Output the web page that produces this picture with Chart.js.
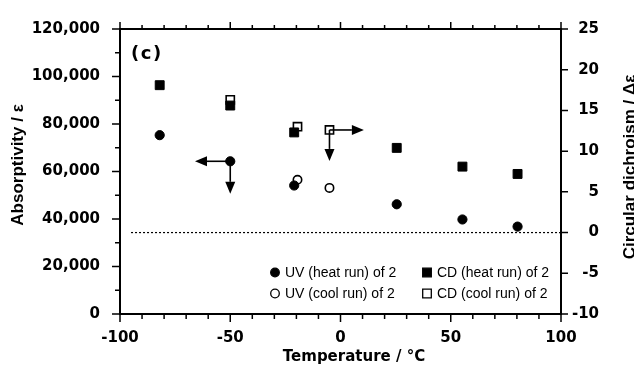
<!DOCTYPE html>
<html>
<head>
<meta charset="utf-8">
<script src="https://cdn.jsdelivr.net/npm/chart.js@4"></script>
<style>
  body { margin: 0; background: #fff; }
  #wrap { width: 634px; height: 366px; }
</style>
</head>
<body>
<div id="wrap"><canvas id="myChart" width="634" height="366"></canvas></div>
<script>
// temperatures (°C) and values
var uvHeatT = [-82, -50, -21, 25.5, 55.3, 80.3];
var uvHeat = [75300, 64300, 54100, 46200, 39800, 36800];
var uvCoolT = [-19.5, -5];
var uvCool = [56500, 53100];
var cdHeatT = [-82, -50, -21, 25.5, 55.3, 80.3];
var cdHeat = [18.1, 15.6, 12.3, 10.4, 8.1, 7.2];
var cdCoolT = [-50, -19.5, -5];
var cdCool = [16.3, 13.0, 12.6];
var zeroLineT = [-95, 100];
var zeroLine = [0, 0];

// arrows: [x0, y0, x1, y1] on the given y axis
var uvArrows = [[-50, 64300, -66, 64300], [-50, 64300, -50, 50600]];
var cdArrows = [[-5, 12.6, 10.6, 12.6], [-5, 12.6, -5, 8.8]];

var legendLabels = ['UV (heat run) of 2', 'CD (heat run) of 2', 'UV (cool run) of 2', 'CD (cool run) of 2'];

function pts(xs, ys) {
    return xs.map(function (x, i) { return { x: x, y: ys[i] }; });
}

var tickFont = { family: 'DejaVu Sans', weight: 'bold', size: 15 };

var decorPlugin = {
    id: 'decor',
    beforeDatasetsDraw: function (chart) {
        var ctx = chart.ctx;
        var a = chart.chartArea;
        var sx = chart.scales.x, sy = chart.scales.y, sy2 = chart.scales.y2;
        ctx.save();
        ctx.strokeStyle = '#000';
        ctx.lineWidth = 2;
        ctx.strokeRect(a.left, a.top, a.right - a.left, a.bottom - a.top);
        ctx.lineWidth = 1.5;
        ctx.beginPath();
        for (var v = 0; v <= 120000; v += 10000) {
            var py = sy.getPixelForValue(v);
            var len = v % 20000 === 0 ? 8 : 5;
            ctx.moveTo(a.left - len, py); ctx.lineTo(a.left, py);
        }
        for (var c = -10; c <= 25; c += 5) {
            var py2 = sy2.getPixelForValue(c);
            ctx.moveTo(a.right, py2); ctx.lineTo(a.right + 7, py2);
        }
        for (var t = -100; t <= 100; t += 10) {
            var px = sx.getPixelForValue(t);
            var major = t % 50 === 0;
            ctx.moveTo(px, a.bottom); ctx.lineTo(px, a.bottom + (major ? 8 : 5));
            ctx.moveTo(px, a.top); ctx.lineTo(px, a.top - (major ? 7 : 4));
        }
        ctx.stroke();

        // right axis labels, right-aligned
        ctx.fillStyle = '#000';
        ctx.font = 'bold 15px "DejaVu Sans"';
        ctx.textAlign = 'right';
        ctx.textBaseline = 'middle';
        sy2.ticks.forEach(function (tk) {
            ctx.fillText(String(tk.value), a.right + 38, sy2.getPixelForValue(tk.value));
        });
        ctx.restore();
    },
    afterDatasetsDraw: function (chart) {
        var ctx = chart.ctx;
        var a = chart.chartArea;
        var sx = chart.scales.x;
        ctx.save();
        ctx.fillStyle = '#000';
        ctx.strokeStyle = '#000';

        function arrow(scale, d) {
            var x0 = sx.getPixelForValue(d[0]), y0 = scale.getPixelForValue(d[1]);
            var x1 = sx.getPixelForValue(d[2]), y1 = scale.getPixelForValue(d[3]);
            var ang = Math.atan2(y1 - y0, x1 - x0);
            var hl = 12, hw = 5;
            var bx = x1 - Math.cos(ang) * hl, by = y1 - Math.sin(ang) * hl;
            ctx.lineWidth = 1.6;
            ctx.beginPath(); ctx.moveTo(x0, y0); ctx.lineTo(bx, by); ctx.stroke();
            ctx.beginPath();
            ctx.moveTo(x1, y1);
            ctx.lineTo(bx - Math.sin(ang) * hw, by + Math.cos(ang) * hw);
            ctx.lineTo(bx + Math.sin(ang) * hw, by - Math.cos(ang) * hw);
            ctx.closePath(); ctx.fill();
        }
        uvArrows.forEach(function (d) { arrow(chart.scales.y, d); });
        cdArrows.forEach(function (d) { arrow(chart.scales.y2, d); });

        // legend inside the plot, two columns
        var cols = [275, 427], rows = [a.bottom - 41.5, a.bottom - 20.5];
        ctx.font = '14px "Liberation Sans"';
        ctx.textBaseline = 'middle';
        ctx.textAlign = 'left';
        legendLabels.forEach(function (lab, i) {
            var mx = cols[i % 2], my = rows[Math.floor(i / 2)];
            var ds = chart.data.datasets[i];
            ctx.lineWidth = 1.3;
            ctx.fillStyle = ds.backgroundColor;
            ctx.beginPath();
            if (ds.pointStyle === 'circle') {
                ctx.arc(mx, my, 4.3, 0, Math.PI * 2);
            } else {
                ctx.rect(mx - 4.3, my - 4.3, 8.6, 8.6);
            }
            ctx.fill(); ctx.stroke();
            ctx.fillStyle = '#000';
            ctx.fillText(lab, mx + 10, my + 0.5);
        });

        // panel tag
        ctx.font = 'bold 18px "DejaVu Sans"';
        ctx.letterSpacing = '1.5px';
        ctx.fillText('(c)', a.left + 11, a.top + 25);
        ctx.letterSpacing = '0px';

        // axis titles
        ctx.textAlign = 'center';
        ctx.font = 'bold 15px "DejaVu Sans"';
        ctx.fillText('Temperature / °C', 354, 357.5);
        ctx.font = 'bold 17px "Liberation Sans"';
        ctx.save();
        ctx.translate(18.5, 165);
        ctx.rotate(-Math.PI / 2);
        ctx.fillText('Absorptivity / ε', 0, 0);
        ctx.restore();
        ctx.save();
        ctx.translate(630.5, 167);
        ctx.rotate(-Math.PI / 2);
        ctx.fillText('Circular dichroism / Δε', 0, 0);
        ctx.restore();
        ctx.restore();
    }
};

window.onload = function () {
    var ctx = document.getElementById('myChart').getContext('2d');

    var myChart = new Chart(ctx, {
        type: 'scatter',
        data: {
            datasets: [{
                label: legendLabels[0],
                data: pts(uvHeatT, uvHeat),
                yAxisID: 'y',
                pointStyle: 'circle',
                pointRadius: 4.6,
                backgroundColor: '#000',
                borderColor: '#000',
                borderWidth: 1
            },
            {
                label: legendLabels[1],
                data: pts(cdHeatT, cdHeat),
                yAxisID: 'y2',
                pointStyle: 'rect',
                pointRadius: 6.3,
                backgroundColor: '#000',
                borderColor: '#000',
                borderWidth: 1
            },
            {
                label: legendLabels[2],
                data: pts(uvCoolT, uvCool),
                yAxisID: 'y',
                pointStyle: 'circle',
                pointRadius: 4.2,
                backgroundColor: '#fff',
                borderColor: '#000',
                borderWidth: 1.6
            },
            {
                label: legendLabels[3],
                data: pts(cdCoolT, cdCool),
                yAxisID: 'y2',
                pointStyle: 'rect',
                pointRadius: 5.8,
                backgroundColor: '#fff',
                borderColor: '#000',
                borderWidth: 1.6
            },
            {
                label: 'zero',
                type: 'line',
                data: pts(zeroLineT, zeroLine),
                yAxisID: 'y2',
                borderColor: '#000',
                borderWidth: 1.2,
                borderDash: [2, 2],
                pointRadius: 0,
                fill: false
            }]
        },
        options: {
            responsive: false,
            animation: false,
            devicePixelRatio: 1,
            layout: { padding: { top: 21, left: 0, right: 0, bottom: 0 } },
            plugins: {
                legend: { display: false },
                tooltip: { enabled: false }
            },
            scales: {
                x: {
                    type: 'linear',
                    position: 'bottom',
                    min: -100,
                    max: 100,
                    grid: { display: false, drawTicks: false },
                    border: { display: false },
                    ticks: { stepSize: 50, font: tickFont, color: '#000', padding: 15, maxRotation: 0 },
                    afterFit: function (s) { s.height = 52; }
                },
                y: {
                    type: 'linear',
                    position: 'left',
                    min: 0,
                    max: 120000,
                    grid: { display: false, drawTicks: false },
                    border: { display: false },
                    ticks: {
                        stepSize: 20000, font: tickFont, color: '#000', padding: 20,
                        callback: function (v) { return String(v).replace(/\B(?=(\d{3})+(?!\d))/g, ','); }
                    },
                    afterFit: function (s) { s.width = 120; }
                },
                y2: {
                    type: 'linear',
                    position: 'right',
                    min: -10,
                    max: 25,
                    grid: { display: false, drawTicks: false },
                    border: { display: false },
                    ticks: { stepSize: 5, display: false },
                    afterFit: function (s) { s.width = 73; }
                }
            }
        },
        plugins: [decorPlugin]
    });
};
</script>
</body>
</html>
